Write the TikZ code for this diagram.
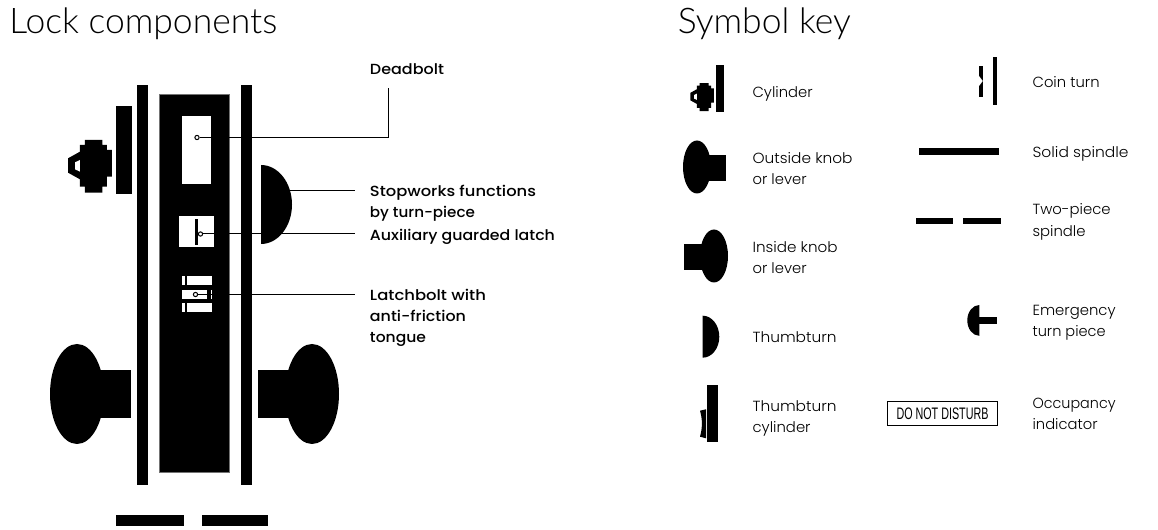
\documentclass[tikz,border=0pt]{standalone}
\usepackage{graphicx}
\usepackage{fontspec}
\newfontfamily\headfont[UprightFont=* Light]{Lato}
\newfontfamily\boldlbl[UprightFont=* Medium]{Poppins}
\newfontfamily\keylbl[UprightFont=* Light]{Poppins}
\newfontfamily\dndfont{Liberation Sans}
\newsavebox\fitbox
\newcommand\fitw[2]{\sbox\fitbox{#2}\pgfmathsetmacro\fitr{(#1*0.75pt)/\wd\fitbox}\scalebox{\fitr}[1]{\usebox\fitbox}}
\tikzset{
 heading/.style={anchor=base west,inner sep=0pt,font=\headfont\fontsize{26.5pt}{26.5pt}\selectfont},
 partlabel/.style={anchor=base west,inner sep=0pt,xshift=-0.6pt,yshift=-0.4pt,font=\boldlbl\fontsize{11pt}{11pt}\selectfont},
 keylabel/.style={anchor=base west,inner sep=0pt,xshift=-0.5pt,yshift=-0.4pt,font=\keylbl\fontsize{11pt}{11pt}\selectfont},
 leader/.style={draw=black,line width=0.75pt},
 probe/.style={circle,draw=black,fill=white,line width=0.75pt,inner sep=0pt,minimum size=3.2pt},
 solidpart/.style={fill=black,draw=none},
}
\newcommand\cylshape{%
 \fill[black] (135,180)--(187,180)--(187,195)--(201,195)--(201,210)--(216,210)--(216,290)--(201,290)--(201,320)--(187,320)--(187,338)--(135,338)--(135,320)--(120,320)--(120,298)--(84,278)--(84,235)--(120,215)--(120,195)--(135,195)--cycle;
 \fill[white] (105,247)--(120,240)--(120,275)--(105,268)--cycle;
 \fill[black] (228,78) rectangle (276,342);
}
\begin{document}
\begin{tikzpicture}[x=0.75pt,y=-0.75pt]
\useasboundingbox (0,0) rectangle (1158,530);
\fill[white] (0,0) rectangle (1158,530);
% headings
\node[heading] (hLock) at (9,33.5) {\fitw{268}{Lock components}};
\node[heading] (hKey) at (677.5,33.5) {\fitw{173}{Symbol key}};
% lock body
\fill[black] (137,85) rectangle (148,485);
\fill[black] (241,85) rectangle (252,485);
\fill[black,draw=black!55,line width=0.5pt] (159.5,94) rectangle (229.5,472);
\begin{scope}[shift={(40,80)},scale=0.33333]\cylshape\end{scope}
% knobs
\fill[black] (77,394) ellipse [x radius=27,y radius=50];
\fill[black] (100,370) rectangle (131,418);
\fill[black] (312,394) ellipse [x radius=27,y radius=50];
\fill[black] (258,370) rectangle (290,418);
\fill[black] (261,165) arc[start angle=-90,end angle=90,x radius=31,y radius=39.5] -- cycle;
\fill[black] (116,515) rectangle (184,526);
\fill[black] (202,515) rectangle (268,526);
% windows
\fill[white] (182,116) rectangle (211,184);
\fill[white] (179,216) rectangle (214,247);
\fill[black] (195,219) rectangle (198,245);
\fill[white] (182,276) rectangle (185,285);
\fill[white] (187,276) rectangle (212,285);
\fill[white] (182,290) rectangle (212,299);
\fill[black] (207,290) rectangle (211,299);
\fill[white] (182,303) rectangle (185,312.5);
\fill[white] (187,303) rectangle (212,312.5);
% labels
\node[partlabel] (lDead) at (370.5,74) {\fitw{74}{Deadbolt}};
\node[partlabel] (lStop) at (370.5,196) {\fitw{166}{Stopworks functions}};
\node[partlabel] (lTurn) at (370.5,217) {\fitw{105}{by turn-piece}};
\node[partlabel] (lAux) at (370.5,239.5) {\fitw{185}{Auxiliary guarded latch}};
\node[partlabel] (lLatch) at (370.5,300) {\fitw{116}{Latchbolt with}};
\node[partlabel] (lAnti) at (370.5,321) {\fitw{96}{anti-friction}};
\node[partlabel] (lTong) at (370.5,342) {\fitw{56}{tongue}};
% leaders
\coordinate (deadElbow) at (388.5,137.5);
\coordinate (deadEnd) at (388.5,88);
\coordinate (domeEdge) at (288,190.5);
\coordinate (stopEnd) at (355,190.5);
\coordinate (auxEnd) at (355,234);
\coordinate (latchEnd) at (355,294.5);
\node[probe] (pDead) at (197,137.5) {};
\node[probe] (pAux) at (200.5,234) {};
\node[probe] (pLatch) at (195.5,294.5) {};
\draw[leader] (pDead) -- (deadElbow) -- (deadEnd);
\draw[leader] (domeEdge) -- (stopEnd);
\draw[leader] (pAux) -- (auxEnd);
\draw[leader] (pLatch) -- (latchEnd);
% key left
\begin{scope}[shift={(675.6,51.2)},scale=0.177]\cylshape\end{scope}
\node[keylabel] (kCyl) at (753,96.5) {\fitw{60}{Cylinder}};
\fill[black] (697,167) ellipse [x radius=14,y radius=26.5];
\fill[black] (705,155) rectangle (726,181);
\node[keylabel] (kOut) at (753,163) {\fitw{100}{Outside knob}};
\node[keylabel] (kOutB) at (753,184) {\fitw{54}{or lever}};
\fill[black] (714,256) ellipse [x radius=14,y radius=26.5];
\fill[black] (684,244) rectangle (705,270);
\node[keylabel] (kIn) at (753,252) {\fitw{85}{Inside knob}};
\node[keylabel] (kInB) at (753,273) {\fitw{54}{or lever}};
\fill[black] (702.7,315.7) arc[start angle=-90,end angle=90,x radius=16.6,y radius=21] -- cycle;
\node[keylabel] (kThumb) at (753,342) {\fitw{84}{Thumbturn}};
\fill[black] (707,385) rectangle (718,442);
\fill[black] (700,410.7) -- (706,409.3) -- (706,438.3) -- (700,436.7) .. controls (702.5,428) and (702.5,419) .. (700,410.7) -- cycle;
\node[keylabel] (kTc) at (753,411) {\fitw{84}{Thumbturn}};
\node[keylabel] (kTcB) at (753,432) {\fitw{58}{cylinder}};
% key right
\fill[black] (993,57) rectangle (997,105);
\fill[black] (979.3,65.7) rectangle (983,97);
\fill[white] (979,76) -- (982.8,81) -- (979,86) -- cycle;
\node[keylabel] (kCoin) at (1033,87) {\fitw{67}{Coin turn}};
\fill[black] (919,148) rectangle (999,155);
\node[keylabel] (kSolid) at (1033,157) {\fitw{96}{Solid spindle}};
\fill[black] (916,218) rectangle (953,224);
\fill[black] (963,218) rectangle (1001,224);
\node[keylabel] (kTwo) at (1033,214) {\fitw{78}{Two-piece}};
\node[keylabel] (kTwoB) at (1033,236) {\fitw{53}{spindle}};
\fill[black] (979.3,305) arc[start angle=-90,end angle=-270,x radius=12,y radius=15.4] -- cycle;
\fill[black] (979,316.7) rectangle (997,324);
\node[keylabel] (kEm) at (1033,315) {\fitw{83}{Emergency}};
\node[keylabel] (kEmB) at (1033,336) {\fitw{73}{turn piece}};
\node[draw=black,line width=0.75pt,minimum width=82.5pt,minimum height=18pt,inner sep=0pt,font=\dndfont\fontsize{12.5pt}{12.5pt}\selectfont] (dnd) at (942.5,414) {\fitw{92}{DO NOT DISTURB}};
\node[keylabel] (kOcc) at (1033,408) {\fitw{83}{Occupancy}};
\node[keylabel] (kOccB) at (1033,429) {\fitw{65}{indicator}};
\end{tikzpicture}
\end{document}
